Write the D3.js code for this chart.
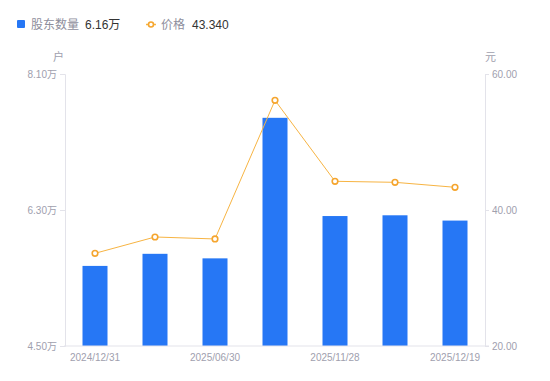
<!DOCTYPE html>
<html><head><meta charset="utf-8">
<script src="https://cdn.jsdelivr.net/npm/d3@7"></script>
<style>
html,body{margin:0;padding:0;background:#fff;}
svg{display:block;font-family:"Liberation Sans","Noto Sans CJK SC",Arial,sans-serif;}
</style></head>
<body><svg id="c" width="550" height="381"></svg>
<script>
const categories = ["2024/12/31","2025/03/31","2025/06/30","2025/09/30","2025/11/28","2025/12/10","2025/12/19"];
const holders = [5.56, 5.72, 5.66, 7.52, 6.22, 6.23, 6.16];   // 万户
const prices = [33.63, 36.03, 35.74, 56.13, 44.22, 44.07, 43.34]; // 元
const leftTicks = [4.5, 6.3, 8.1];
const rightTicks = [20, 40, 60];
const shownLabels = ["2024/12/31","2025/06/30","2025/11/28","2025/12/19"];

const svg = d3.select("#c");
const L = 65, R = 485, T = 74, B = 346;
const x = d3.scaleBand().domain(categories).range([L, R]);
const yL = d3.scaleLinear().domain([4.5, 8.1]).range([B, T]);
const yR = d3.scaleLinear().domain([20, 60]).range([B, T]);
const axisColor = "#e3e3ea", tickText = "#a0a0ae";

// bars
svg.append("g").selectAll("rect").data(holders).join("rect")
  .attr("x", (d,i) => x(categories[i]) + x.bandwidth()/2 - 12.5)
  .attr("width", 25)
  .attr("y", d => yL(d))
  .attr("height", d => B - yL(d))
  .attr("fill", "#2677f5");

// axes
const gL = svg.append("g").attr("transform", `translate(${L},0)`)
  .call(d3.axisLeft(yL).tickValues(leftTicks).tickSize(5).tickPadding(3).tickFormat(d => d3.format(".2f")(d) + "万"));
const gR = svg.append("g").attr("transform", `translate(${R},0)`)
  .call(d3.axisRight(yR).tickValues(rightTicks).tickSize(4).tickPadding(3).tickFormat(d3.format(".2f")));
const gX = svg.append("g").attr("transform", `translate(0,${B})`)
  .call(d3.axisBottom(x).tickSize(0).tickPadding(8).tickFormat(d => shownLabels.includes(d) ? d : ""));
[gL, gR, gX].forEach(g => {
  g.selectAll("path.domain").attr("stroke", axisColor);
  g.selectAll(".tick line").attr("stroke", axisColor);
  g.selectAll("text").attr("fill", tickText).attr("font-size", 10)
    .attr("font-family", '"Liberation Sans","Noto Sans CJK SC",sans-serif');
});
gX.select("path.domain").attr("d", `M${L-1},0H${R+4}`);

// unit labels
svg.append("text").attr("x", L-1).attr("y", 61).attr("text-anchor", "end")
  .attr("font-size", 11).attr("fill", tickText).attr("font-family", '"Noto Sans CJK SC"').text("户");
svg.append("text").attr("x", R).attr("y", 61).attr("text-anchor", "start")
  .attr("font-size", 11).attr("fill", tickText).attr("font-family", '"Noto Sans CJK SC"').text("元");

// price line
const line = d3.line().x((d,i) => x(categories[i]) + x.bandwidth()/2).y(d => yR(d));
svg.append("path").datum(prices).attr("d", line).attr("fill", "none")
  .attr("stroke", "#f7b443").attr("stroke-width", 1);
svg.append("g").selectAll("circle").data(prices).join("circle")
  .attr("cx", (d,i) => x(categories[i]) + x.bandwidth()/2).attr("cy", d => yR(d))
  .attr("r", 2.8).attr("fill", "#fff").attr("stroke", "#f5a52e").attr("stroke-width", 1.6);

// legend
const lg = svg.append("g").attr("font-size", 12);
lg.append("rect").attr("x", 17).attr("y", 20).attr("width", 8).attr("height", 8).attr("rx", 1).attr("fill", "#2677f5");
lg.append("text").attr("x", 31).attr("y", 29).attr("fill", "#8e8e9c").attr("font-family", '"Noto Sans CJK SC"').text("股东数量");
lg.append("text").attr("x", 85).attr("y", 29).attr("fill", "#333").attr("font-family", '"Liberation Sans","Noto Sans CJK SC"')
  .text(d3.format(".2f")(holders[holders.length-1]) + "万");
lg.append("line").attr("x1", 146).attr("x2", 156).attr("y1", 24.5).attr("y2", 24.5).attr("stroke", "#f7b443").attr("stroke-width", 1.5);
lg.append("circle").attr("cx", 151).attr("cy", 24.5).attr("r", 2.5).attr("fill", "#fff").attr("stroke", "#f5a52e").attr("stroke-width", 1.6);
lg.append("text").attr("x", 161).attr("y", 29).attr("fill", "#8e8e9c").attr("font-family", '"Noto Sans CJK SC"').text("价格");
lg.append("text").attr("x", 192).attr("y", 29).attr("fill", "#333").attr("font-family", '"Liberation Sans"')
  .text(d3.format(".3f")(prices[prices.length-1]));
</script></body></html>
